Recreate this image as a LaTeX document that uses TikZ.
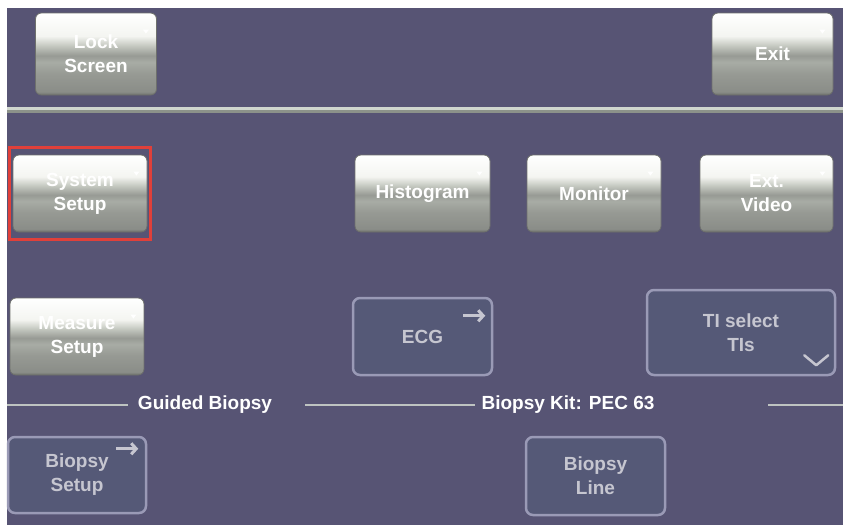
\documentclass[tikz,border=0pt]{standalone}
\usepackage{fontspec}
\setmainfont{Liberation Sans}
\usetikzlibrary{arrows.meta, calc, fit, positioning}

\definecolor{panelbg}{HTML}{575474}
\definecolor{flatfill}{HTML}{555977}
\definecolor{flatedge}{HTML}{9A9AB6}
\definecolor{flattext}{HTML}{C6C6D0}
\definecolor{rulelight}{HTML}{D0D6CE}
\definecolor{ruledark}{HTML}{8C928A}
\definecolor{selred}{HTML}{E0403A}
\definecolor{btnD}{HTML}{6E706C}
\definecolor{btnC}{HTML}{8A8D88}
\definecolor{btnB}{HTML}{979A94}
\definecolor{btnM}{HTML}{A8ACA5}
\definecolor{btnL}{HTML}{C4C8C0}
\definecolor{btnW}{HTML}{F4F5F1}

% vertical gradient of the raised grey keys (bottom -> top)
\pgfdeclareverticalshading{keyshade}{100bp}{
    color(0bp)=(btnD); color(25bp)=(btnD); color(27bp)=(btnC);
    color(38bp)=(btnB); color(45bp)=(btnM); color(49bp)=(btnB);
    color(55bp)=(btnL); color(61bp)=(btnW); color(75bp)=(white);
    color(100bp)=(white)}

\newcommand{\keyfont}{\bfseries\fontsize{19}{24}\selectfont}

\begin{document}
\begin{tikzpicture}[
    x=1pt, y=-1pt,    % 1 unit = 1 px of the screen
    >=Stealth,
    graykey/.style={rounded corners=6pt, shading=keyshade, draw=btnD,
        line width=0.8pt, text=white, font=\keyfont, align=center,
        inner sep=0pt},
    flatkey/.style={rounded corners=7pt, fill=flatfill, draw=flatedge,
        line width=2.5pt, text=flattext, font=\keyfont, align=center,
        inner sep=0pt},
    section/.style={text=white, font=\keyfont, inner sep=0pt},
    secline/.style={rulelight!85!panelbg, line width=1.4pt},
    selframe/.style={draw=selred, line width=3pt, inner xsep=3.5pt,
        inner ysep=7pt},
    keymark/.style={fill=white},
    goarrow/.style={flattext, line width=3pt,
        -{Straight Barb[length=5pt, width=11pt]}},
]

% ── Screen background ────────────────────────────────────────────────────────
\useasboundingbox (0,0) rectangle (843,525);
\fill[white] (0,0) rectangle (843,525);
\fill[panelbg] (7,8) rectangle (843,525);

% ── Header keys ──────────────────────────────────────────────────────────────
\node[graykey, minimum width=121pt, minimum height=82pt]
    (lock) at (96,54) {Lock\\Screen};
\node[graykey, minimum width=121pt, minimum height=82pt]
    (exit) at (772.5,54) {Exit};

% header rule
\fill[rulelight] (7,107) rectangle (843,110);
\fill[ruledark] (7,110) rectangle (843,113);

% ── First row ────────────────────────────────────────────────────────────────
\node[graykey, minimum width=134pt, minimum height=77pt]
    (sys) at (80,193.5) {System\\Setup};
\node[graykey, minimum width=135pt, minimum height=77pt]
    (hist) at (422.5,193.5) {Histogram};
\node[graykey, minimum width=134pt, minimum height=77pt]
    (mon) at (594,193.5) {Monitor};
\node[graykey, minimum width=133pt, minimum height=77pt]
    (ext) at (766.5,193.5) {Ext.\\Video};

% selected key
\node[selframe, fit=(sys)] (sel) {};

% ── Second row ───────────────────────────────────────────────────────────────
\node[graykey, minimum width=134pt, minimum height=77pt]
    (meas) at (77,336.5) {Measure\\Setup};
\node[flatkey, minimum width=139pt, minimum height=77pt]
    (ecg) at (422.5,336.5) {ECG};
\node[flatkey, minimum width=188pt, minimum height=85pt]
    (tisel) at (741,332.5) {TI select\\TIs};

% small corner marks on the grey keys
\foreach \k in {lock,exit,sys,hist,mon,ext,meas}
    \fill[keymark] ($(\k.north east)+(-14,17)$) -- ++(6,0) -- ++(-3,4) -- cycle;

% key glyphs
\draw[goarrow] ($(ecg.north east)+(-30,19)$) -- ++(22,0);
\draw[flattext, line width=2.5pt, line cap=round, line join=round]
    ($(tisel.south east)+(-32,-21)$) -- ++(12,10) -- ++(12,-10);

% ── Guided biopsy section ────────────────────────────────────────────────────
\node[section] (guided) at (205,405) {Guided Biopsy};
\node[section] (kit) at (568,405) {Biopsy Kit: PEC 63};

\coordinate (s1) at (7,405);
\coordinate (s2) at (128,405);
\coordinate (s3) at (305,405);
\coordinate (s4) at (475,405);
\coordinate (s5) at (768,405);
\coordinate (s6) at (843,405);
\draw[secline] (s1) -- (s2);
\draw[secline] (s3) -- (s4);
\draw[secline] (s5) -- (s6);

\node[flatkey, minimum width=138pt, minimum height=76pt]
    (biosetup) at (77,475) {Biopsy\\Setup};
\node[flatkey, minimum width=139pt, minimum height=78pt]
    (bioline) at (595.5,476) {Biopsy\\Line};

\draw[goarrow] ($(biosetup.north east)+(-31,13)$) -- ++(22,0);

\end{tikzpicture}
\end{document}
